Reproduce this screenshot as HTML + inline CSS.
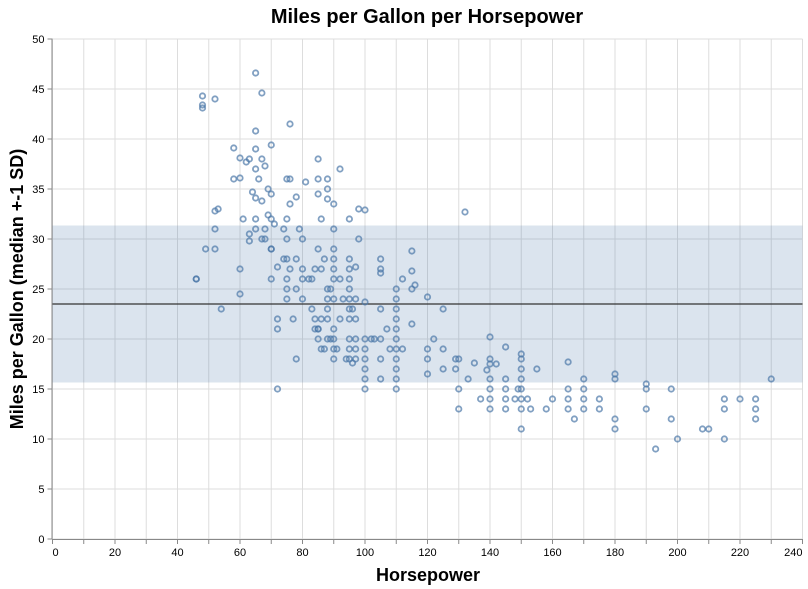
<!DOCTYPE html>
<html><head><meta charset="utf-8"><style>
html,body{margin:0;padding:0;background:#fff;}
svg{display:block;font-family:"Liberation Sans",Arial,sans-serif;}
</style></head><body>
<svg id="chart" width="808" height="589" viewBox="0 0 808 589" xmlns="http://www.w3.org/2000/svg">
<text x="427" y="23" text-anchor="middle" font-size="20" font-weight="bold" fill="#000">Miles per Gallon per Horsepower</text>
<g id="grid"></g>
<g id="band"></g>
<g id="points"></g>
<g id="axes"></g>
<text x="428" y="581" text-anchor="middle" font-size="18" font-weight="bold" fill="#000">Horsepower</text>
<text transform="translate(23,289) rotate(-90)" text-anchor="middle" font-size="18" font-weight="bold" fill="#000">Miles per Gallon (median +-1 SD)</text>
</svg>
<script>
const horsepower=[46,46,48,48,48,49,52,52,52,52,53,54,58,58,60,60,60,60,61,62,63,63,63,64,65,65,65,65,65,65,65,66,67,67,67,67,68,68,69,69,70,70,70,70,70,71,72,72,72,72,74,75,75,75,75,75,75,75,76,76,76,77,78,78,79,78,80,80,80,80,81,83,84,84,85,85,85,85,85,85,86,86,87,88,88,88,88,88,88,89,90,90,90,90,90,90,90,90,90,90,92,92,93,95,95,95,95,95,95,95,95,95,95,95,96,97,97,97,97,97,97,98,98,100,100,100,100,100,100,100,100,102,103,105,105,105,105,105,105,105,107,108,110,110,110,110,110,110,110,110,110,110,110,112,112,115,115,115,115,116,120,120,120,120,122,125,125,125,129,129,130,130,130,132,133,135,137,139,140,140,140,140,140,140,140,142,145,145,145,145,145,148,149,150,150,150,150,150,150,150,150,152,153,155,158,160,165,165,165,165,167,170,170,170,170,175,175,180,180,180,180,190,190,190,193,198,198,200,208,210,215,215,215,220,225,225,225,230,85,86,88,90,92,94,96,84,87,91,68,70,74,76,78,82,88,89,83,86];
const mpg=[26,26,43.4,44.3,43.1,29,44,29,31,32.8,33,23,39.1,36,24.5,27,36.1,38.1,32,37.7,38,29.8,30.5,34.7,46.6,40.8,39,37,34.1,31,32,36,38,44.6,33.8,30,31,37.3,35,32.4,39.4,34.5,32,29,26,31.5,27.2,22,15,21,31,36,28,30,26,25,24,32,41.5,36,33.5,22,34.2,28,31,18,30,26,24,27,35.7,26,27,22,38,36,34.5,29,20,21,32,27,28,25,24,22,35,36,34,25,29,28,26,24,27,20,19,18,33.5,31,37,26,24,32,28,27,26,25,24,23,22,20,19,18,23,27.2,24,22,20,19,18,33,30,32.9,23.7,20,19,18,17,16,15,20,20,23,28,27,26.6,18,16,20,21,19,25,24,23,22,21,20,19,18,17,16,15,19,26,28.8,26.8,21.5,25,25.4,24.2,19,18,16.5,20,23,19,17,18,17,13,15,18,32.7,16,17.6,14,16.9,20.2,18,17.5,16,15,14,13,17.5,19.2,16,15,14,13,14,15,18.5,18,17,16,15,14,13,11,14,13,17,13,14,17.7,15,14,13,12,16,15,14,13,14,13,16.5,16,12,11,15.5,15,13,9,15,12,10,11,11,14,13,10,14,14,13,12,16,21,19,20,21,22,18,17.6,21,19,19,30,29,28,27,25,26,23,20,23,22];
const xTicks=[0,20,40,60,80,100,120,140,160,180,200,220,240];
const yTicks=[0,5,10,15,20,25,30,35,40,45,50];
const center=[23.5];
const spread=[7.85];
const NS="http://www.w3.org/2000/svg";
const X0=52.5,X1=802.5,Y0=539,Y1=39;
function xs(v){return X0+(v-0)/(240-0)*(X1-X0);}
function ys(v){return Y0-(v-0)/(50-0)*(Y0-Y1);}
function mk(p,t,a){const e=document.createElementNS(NS,t);for(const k in a)e.setAttribute(k,a[k]);p.appendChild(e);return e;}
const grid=document.getElementById('grid'),band=document.getElementById('band'),pts=document.getElementById('points'),axes=document.getElementById('axes');
for(let v=0;v<=240;v+=10){const l=mk(grid,'line',{x1:xs(v),x2:xs(v),y1:Y1,y2:Y0,stroke:'#ddd','stroke-width':1});

}
yTicks.forEach(v=>{const l=mk(grid,'line',{x1:X0,x2:X1,y1:ys(v),y2:ys(v),stroke:'#ddd','stroke-width':1});

});
const r=mk(band,'rect',{x:X0,y:ys(center[0]+spread[0]),width:X1-X0,height:ys(center[0]-spread[0])-ys(center[0]+spread[0]),fill:'#4c78a8','fill-opacity':0.2});


const ml=mk(band,'line',{x1:X0,x2:X1,y1:ys(center[0]),y2:ys(center[0]),stroke:'#333','stroke-width':1.2});


for(let i=0;i<horsepower.length;i++){const c=mk(pts,'circle',{cx:xs(horsepower[i]),cy:ys(mpg[i]),r:2.7,fill:'none',stroke:'#4c78a8','stroke-width':1.8,'stroke-opacity':0.7});

}
const xa=mk(axes,'line',{x1:X0,x2:X1,y1:Y0+0.5,y2:Y0+0.5,stroke:'#888'});


const ya=mk(axes,'line',{x1:X0-0.5,x2:X0-0.5,y1:Y1,y2:Y0,stroke:'#888'});


for(let v=0;v<=240;v+=10){const t=mk(axes,'line',{x1:xs(v),x2:xs(v),y1:Y0,y2:Y0+5,stroke:'#888'});

}
xTicks.forEach((v,i)=>{const anc=i===0?'start':(i===xTicks.length-1?'end':'middle');
const t=mk(axes,'text',{x:xs(v),y:Y0+17,'text-anchor':anc,'font-size':11,fill:'#000'});t.textContent=v;

});
yTicks.forEach(v=>{const t=mk(axes,'line',{x1:X0-5,x2:X0,y1:ys(v),y2:ys(v),stroke:'#888'});


const s=mk(axes,'text',{x:X0-8,y:ys(v)+4,'text-anchor':'end','font-size':11,fill:'#000'});s.textContent=v;

});
</script>
</body></html>
